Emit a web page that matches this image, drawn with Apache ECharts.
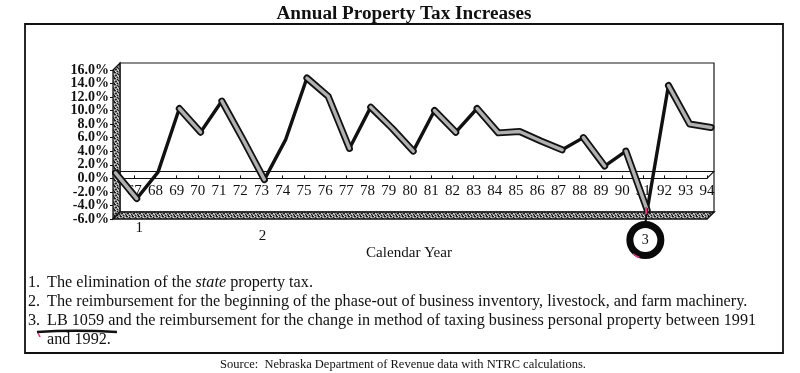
<!DOCTYPE html>
<html><head><meta charset="utf-8">
<script src="https://cdn.jsdelivr.net/npm/echarts@6/dist/echarts.min.js"></script>
<style>html,body{margin:0;padding:0;background:#fff}#c{width:800px;height:373px}</style>
</head><body><div id="c"></div>
<script>
// ---------- data ----------
const years = ['66','67','68','69','70','71','72','73','74','75','76','77','78','79','80','81','82','83','84','85','86','87','88','89','90','91','92','93','94'];
const yearLabels = ['','67','68','69','70','71','72','73','74','75','76','77','78','79','80','81','82','83','84','85','86','87','88','89','90','91','92','93','94'];
const taxIncrease = [0.3,-3.5,0.4,9.8,6.3,10.9,5.2,-0.7,5.2,14.3,11.6,3.9,10.0,6.9,3.5,9.5,6.3,9.8,6.2,6.4,5.0,3.7,5.5,1.3,3.5,-5.2,13.2,7.5,7.0];
const yTickValues = [-6,-4,-2,0,2,4,6,8,10,12,14,16];
const yMin = -6, yMax = 16, yStep = 2;
const titleText = 'Annual Property Tax Increases';
const xAxisTitle = 'Calendar Year';
const markLabels = ['1','2','3'];
const markYears = ['67','73','91'];
const noteNums = ['1.','2.','3.',''];
const noteLines = [
  'The elimination of the {i|state} property tax.',
  'The reimbursement for the beginning of the phase-out of business inventory, livestock, and farm machinery.',
  'LB 1059 and the reimbursement for the change in method of taxing business personal property between 1991',
  'and 1992.'
];
const sourceText = 'Source:  Nebraska Department of Revenue data with NTRC calculations.';

// ---------- helpers ----------
const SERIF = '"Liberation Serif","Times New Roman",serif';
const mctx = document.createElement('canvas').getContext('2d');
function fit(text, target, weight) {
  mctx.font = (weight || 'normal') + ' 100px ' + SERIF;
  return 100 * target / mctx.measureText(text).width;
}
function makePattern() {
  const c = document.createElement('canvas'); c.width = 6; c.height = 6;
  const g = c.getContext('2d');
  g.fillStyle = '#8c8c8c'; g.fillRect(0,0,6,6);
  g.fillStyle = '#1a1a1a';
  [[0,0],[1,0],[3,1],[4,2],[1,3],[2,3],[5,4],[0,5],[3,5]].forEach(p => g.fillRect(p[0],p[1],1,1));
  g.fillStyle = '#dcdcdc';
  [[2,0],[5,1],[0,2],[3,3],[1,5],[4,4]].forEach(p => g.fillRect(p[0],p[1],1,1));
  return c;
}

const chart = echarts.init(document.getElementById('c'), null, {renderer:'canvas'});

// geometry of the front plane (labels) — zero-level grid derived from it
const frontTop = 70, frontBottomPx = 219;
const zeroPx = frontTop + (yMax - 0) / (yMax - yMin) * (frontBottomPx - frontTop);

const hiddenCat = (gi) => ({type:'category', gridIndex:gi, data: years, boundaryGap:false, show:false});
const hiddenVal = (gi, lo, hi) => ({type:'value', gridIndex:gi, min:lo, max:hi, interval:yStep, show:false, splitLine:{show:false}});

// series: base black line + gray ribbon on falling/flat runs
const series = [{
  type:'line', xAxisIndex:2, yAxisIndex:2, data: taxIncrease, symbol:'none',
  lineStyle:{color:'#111', width:3.4, join:'round', cap:'round'}, z:3, silent:true
}];
{
  const n = taxIncrease.length; let i = 0;
  while (i < n - 1) {
    if (taxIncrease[i+1] - taxIncrease[i] < 0.5) {
      let j = i;
      while (j < n - 1 && taxIncrease[j+1] - taxIncrease[j] < 0.5) j++;
      const d = taxIncrease.map((v,k) => (k >= i && k <= j) ? v : null);
      series.push({type:'line', xAxisIndex:2, yAxisIndex:2, data:d, symbol:'none',
        lineStyle:{color:'#111', width:7, join:'round', cap:'round'}, z:4, silent:true});
      series.push({type:'line', xAxisIndex:2, yAxisIndex:2, data:d, symbol:'none',
        lineStyle:{color:'#b0b0b0', width:3.4, join:'round', cap:'round'}, z:5, silent:true});
      i = j;
    } else i++;
  }
}

chart.setOption({
  animation:false,
  backgroundColor:'#fff',
  grid:[
    {left:113, right:93, top:frontTop, bottom:373 - frontBottomPx, show:false},          // front plane (y ticks)
    {left:120, right:86, top:63, bottom:161, show:true, borderColor:'#1a1a1a', borderWidth:1.2, backgroundColor:'transparent'}, // back plane
    {left:115.5, right:89, top:66.5, bottom:157.5, show:false},    // ribbon plane
    {left:113, right:93, top:frontTop, bottom:373 - zeroPx, show:false}  // front plane, above zero (x labels)
  ],
  xAxis:[
    hiddenCat(0),
    {type:'category', gridIndex:1, data:years, boundaryGap:false,
     axisLine:{onZero:true, lineStyle:{color:'#111', width:1.2}},
     axisTick:{show:false}, axisLabel:{show:false}, splitLine:{show:false}},
    hiddenCat(2),
    {type:'category', gridIndex:3, data:yearLabels, boundaryGap:false, position:'bottom',
     axisLine:{onZero:false, lineStyle:{color:'#111', width:1.2}},
     axisTick:{show:true, inside:true, length:3, interval:0, lineStyle:{color:'#111'}},
     axisLabel:{interval:0, margin:5, color:'#111', fontFamily:SERIF, fontSize:15},
     splitLine:{show:false}}
  ],
  yAxis:[
    {type:'value', gridIndex:0, min:yMin, max:yMax, interval:yStep,
     axisLine:{show:false},
     axisTick:{show:true, length:3, lineStyle:{color:'#111'}},
     axisLabel:{show:false},
     splitLine:{show:false}},
    {type:'value', gridIndex:1, min:yMin, max:yMax, interval:yStep,
     axisLine:{show:false}, axisTick:{show:false}, axisLabel:{show:false}, splitLine:{show:false}},
    hiddenVal(2, yMin, yMax),
    hiddenVal(3, 0, yMax)
  ],
  series: series
});

// ---------- decorations computed from the axes ----------
const last = years.length - 1;
const F = (c, v) => chart.convertToPixel({xAxisIndex:0, yAxisIndex:0}, [c, v]);
const B = (c, v) => chart.convertToPixel({xAxisIndex:1, yAxisIndex:1}, [c, v]);
const D = (c, v) => chart.convertToPixel({xAxisIndex:2, yAxisIndex:2}, [c, v]);
const pat = {image: makePattern(), repeat:'repeat'};

const g = [];
// outer frame
g.push({type:'rect', z:0, shape:{x:25, y:24, width:758, height:329},
  style:{fill:'none', stroke:'#111', lineWidth:1.8}});
// title
g.push({type:'text', z:10, x:404, y:14, style:{text:titleText, fontFamily:SERIF, fontWeight:'bold',
  fontSize: fit(titleText, 255, 'bold'), fill:'#111', align:'center', verticalAlign:'middle'}});
// y tick labels (front plane)
yTickValues.forEach(v => {
  const p = F(0, v);
  g.push({type:'text', z:10, x:p[0] - 4, y:p[1], style:{text:v.toFixed(1) + '%', fontFamily:SERIF, fontWeight:'bold',
    fontSize:14, fill:'#111', align:'right', verticalAlign:'middle'}});
});
// left wall
const wall = [F(0,yMax), F(0,yMin), B(0,yMin), B(0,yMax)];
g.push({type:'polygon', z:1, shape:{points:wall}, style:{fill:pat, stroke:'#111', lineWidth:1.3}});
// floor
const floor = [F(0,yMin), F(last,yMin), B(last,yMin), B(0,yMin)];
g.push({type:'polygon', z:1, shape:{points:floor}, style:{fill:pat, stroke:'#111', lineWidth:1.6}});
// right diagonal of zero floor
{ const a = F(last,0), b = B(last,0);
  g.push({type:'line', z:1, shape:{x1:a[0], y1:a[1], x2:b[0], y2:b[1]}, style:{stroke:'#111', lineWidth:1.2}}); }
// axis title
g.push({type:'text', z:10, x:409, y:253, style:{text:xAxisTitle, fontFamily:SERIF,
  fontSize: fit(xAxisTitle, 86), fill:'#111', align:'center', verticalAlign:'middle'}});
// markers 1, 2, 3
const markYs = [228, 236, 240];
const markDx = [5, 1, 2];
markLabels.forEach((lab, k) => {
  const idx = years.indexOf(markYears[k]);
  const x = F(idx, 0)[0] + markDx[k];
  if (k === 2) {
    const p = D(idx, taxIncrease[idx]);
    g.push({type:'line', z:6, shape:{x1:p[0], y1:p[1]-2, x2:x, y2:markYs[k]-16}, style:{stroke:'#111', lineWidth:2}});
    g.push({type:'line', z:7, shape:{x1:p[0]-1, y1:p[1]-3, x2:p[0]-1, y2:p[1]+4}, style:{stroke:'#e8337a', lineWidth:2}});
    g.push({type:'circle', z:6, shape:{cx:x, cy:markYs[k], r:15.5}, style:{fill:'#fff', stroke:'#0a0a0a', lineWidth:7}});
    g.push({type:'arc', z:7, shape:{cx:x, cy:markYs[k], r:18.5, startAngle:1.9, endAngle:2.3}, style:{stroke:'#e8337a', lineWidth:1.5, fill:'none'}});
    g.push({type:'text', z:8, x:x, y:markYs[k], style:{text:lab, fontFamily:SERIF, fontSize:14, fill:'#111', align:'center', verticalAlign:'middle'}});
  } else {
    g.push({type:'text', z:8, x:x, y:markYs[k], style:{text:lab, fontFamily:SERIF, fontSize:15, fill:'#111', align:'center', verticalAlign:'middle'}});
  }
});
// notes
const noteSize = fit(noteLines[1], 701);
const noteYs = [283, 302, 321, 340];
noteLines.forEach((t, k) => {
  if (noteNums[k]) g.push({type:'text', z:10, x:28, y:noteYs[k], style:{text:noteNums[k], fontFamily:SERIF, fontSize:noteSize, fill:'#111', verticalAlign:'middle'}});
  g.push({type:'text', z:10, x:47, y:noteYs[k], style:{text:t, fontFamily:SERIF, fontSize:noteSize, fill:'#111', verticalAlign:'middle',
    rich:{i:{fontStyle:'italic', fontFamily:SERIF, fontSize:noteSize, fill:'#111'}}}});
});
// hand-drawn underline under "LB 1059 a"
g.push({type:'bezierCurve', z:11, shape:{x1:37, y1:332, x2:117, y2:332, cpx1:75, cpy1:329.5}, style:{stroke:'#111', lineWidth:2.6, fill:'none'}});
g.push({type:'line', z:12, shape:{x1:38, y1:333, x2:40, y2:337}, style:{stroke:'#e8337a', lineWidth:1.5}});
// source
g.push({type:'text', z:10, x:403, y:365, style:{text:sourceText, fontFamily:SERIF,
  fontSize: fit(sourceText, 366), fill:'#111', align:'center', verticalAlign:'middle'}});

chart.setOption({graphic: g});
</script></body></html>
